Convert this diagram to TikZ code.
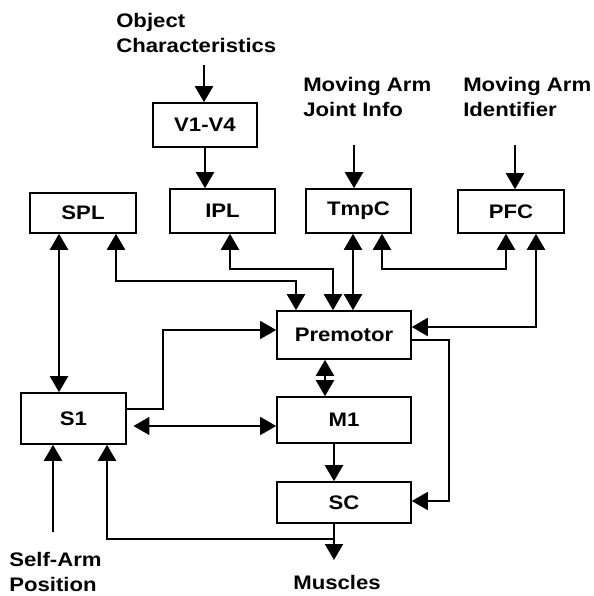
\documentclass[tikz,border=0pt]{standalone}
\usepackage{fontspec}
\setmainfont{Liberation Sans}[FakeStretch=1.13]
\usetikzlibrary{arrows.meta}
\begin{document}
\begin{tikzpicture}[x=0.75pt,y=-0.75pt,
  lab/.style={font=\bfseries\fontsize{14.7}{18.75}\selectfont},
  box/.style={draw, line width=1.2pt, inner sep=0pt, lab},
  arr/.style={line width=1.6pt, -{Triangle[width=13.5pt,length=12pt]}},
  darr/.style={line width=1.6pt, {Triangle[width=13.5pt,length=12pt]}-{Triangle[width=13.5pt,length=12pt]}},
  thinarr/.style={line width=1pt, -{Triangle[width=13.5pt,length=12pt]}},
  txt/.style={lab, inner sep=0pt, align=left}]
\useasboundingbox (0,0) rectangle (593,596);
% boxes
\node[box, minimum width=104*0.75pt, minimum height=44*0.75pt] (v14) at (205,125) {V1-V4};
\node[box, minimum width=106*0.75pt, minimum height=40*0.75pt] (spl) at (83,213) {SPL};
\node[box, minimum width=105*0.75pt, minimum height=44*0.75pt] (ipl) at (222.5,211) {IPL};
\node[box, minimum width=105*0.75pt, minimum height=44*0.75pt] (tmpc) at (358.5,211) {TmpC};
\node[box, minimum width=106*0.75pt, minimum height=43*0.75pt] (pfc) at (511,211.5) {PFC};
\node[box, minimum width=134*0.75pt, minimum height=48*0.75pt] (prem) at (344,335) {Premotor};
\node[box, minimum width=105*0.75pt, minimum height=51*0.75pt] (s1) at (73.5,418.5) {S1};
\node[box, minimum width=134*0.75pt, minimum height=46*0.75pt] (m1) at (344,420) {M1};
\node[box, minimum width=134*0.75pt, minimum height=41*0.75pt] (sc) at (344,502.5) {SC};
% texts
\node[txt, anchor=north west] (objtxt) at (116,13) {Object\\Characteristics};
\node[txt, anchor=north west] (jointtxt) at (303,77) {Moving Arm\\Joint Info};
\node[txt, anchor=north west] (idtxt) at (463,77) {Moving Arm\\Identifier};
\node[txt, anchor=north west] (selftxt) at (9,552) {Self-Arm\\Position};
\node[lab, inner sep=0pt, anchor=base] (mustxt) at (337,589) {Muscles};
% free ends
\coordinate (objin) at (204,65);
\coordinate (jointin) at (354,145);
\coordinate (idin) at (515,145);
\coordinate (selfin) at (53,532);
\coordinate (musout) at (334,560);
\coordinate (fb) at (334,539);
% connectors
\draw[arr] (objin) -- (objin |- v14.north);
\draw[arr] (v14.south) -- (v14.south |- ipl.north);
\draw[arr] (jointin) -- (jointin |- tmpc.north);
\draw[arr] (idin) -- (idin |- pfc.north);
\draw[darr] (spl.south -| 59,0) -- (s1.north -| 59,0);
\draw[darr] (spl.south -| 116,0) -- (116,281) -- (296,281) -- (prem.north -| 296,0);
\draw[darr] (ipl.south -| 230,0) -- (230,269) -- (333,269) -- (prem.north -| 333,0);
\draw[darr] (tmpc.south -| 353,0) -- (prem.north -| 353,0);
\draw[darr] (tmpc.south -| 382,0) -- (382,269) -- (506,269) -- (pfc.south -| 506,0);
\draw[darr] (pfc.south -| 536,0) -- (536,327) -- (prem.east |- 0,327);
\draw[thinarr] (prem.east |- 0,340) -- (449,340) -- (449,501) -- (sc.east |- 0,501);
\draw[thinarr] (s1.east |- 0,409) -- (163,409) -- (163,330) -- (prem.west |- 0,330);
\draw[darr, line width=1.2pt, shorten <=5pt] (s1.east |- 0,426) -- (m1.west |- 0,426);
\draw[darr] (prem.south -| 325,0) -- (m1.north -| 325,0);
\draw[arr] (m1.south -| 334,0) -- (sc.north -| 334,0);
\draw[arr] (sc.south -| 334,0) -- (musout);
\draw[arr] (fb) -- (107,539) -- (s1.south -| 107,0);
\draw[arr] (selfin) -- (selfin |- s1.south);
\end{tikzpicture}
\end{document}
